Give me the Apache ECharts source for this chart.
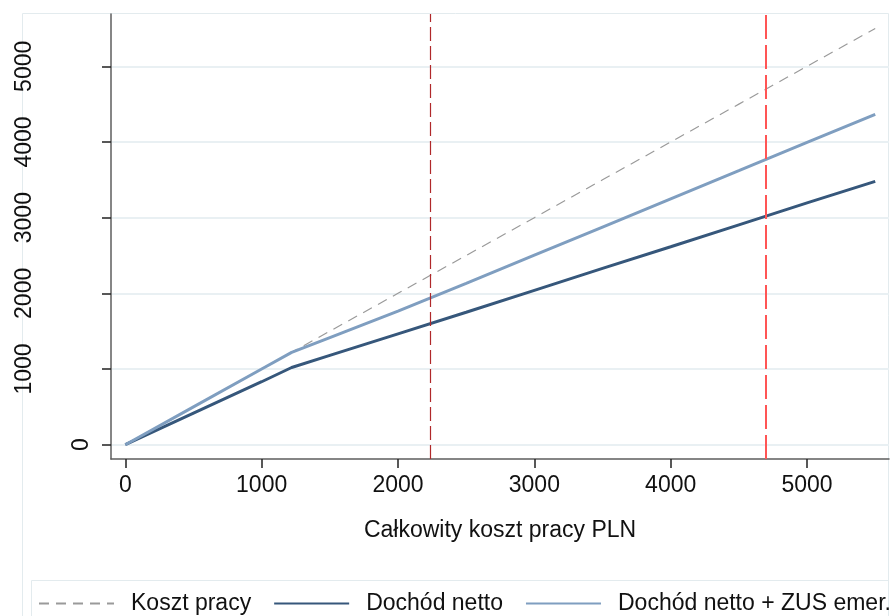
<!DOCTYPE html>
<html>
<head>
<meta charset="utf-8">
<script src="https://cdn.jsdelivr.net/npm/echarts@6/dist/echarts.min.js"></script>
<style>
html,body{margin:0;padding:0;background:#fff;}
#chart{width:891px;height:616px;}
</style>
</head>
<body>
<div id="chart"></div>
<script>
// ---- data ----
const xValues   = [0, 500, 1000, 1220, 1500, 2000, 2500, 3000, 3500, 4000, 4500, 5000, 5500];
const kosztPracy = [0, 500, 1000, 1220, 1500, 2000, 2500, 3000, 3500, 4000, 4500, 5000, 5500];
const dochodNetto = [0, 416, 832, 1020, 1180, 1465, 1750, 2040, 2330, 2615, 2905, 3195, 3480];
const dochodNettoZus = [0, 500, 1000, 1220, 1416, 1766, 2131, 2504, 2876, 3249, 3621, 3994, 4366];
const xTicks = [0, 1000, 2000, 3000, 4000, 5000];
const yTicks = [0, 1000, 2000, 3000, 4000, 5000];
const vLineMin = 2235;
const vLineRed = 4700;
const seriesNames = ['Koszt pracy', 'Dochód netto', 'Dochód netto + ZUS emer.'];
const xTitle = 'Całkowity koszt pracy PLN';

const pairs = (ys) => xValues.map((x, i) => [x, ys[i]]);
const FONT = "'Liberation Sans', Arial, sans-serif";

const chart = echarts.init(document.getElementById('chart'), null, {renderer: 'canvas'});
chart.setOption({
  animation: false,
  backgroundColor: '#ffffff',
  textStyle: {fontFamily: FONT, color: '#111'},
  grid: {left: 111, right: 2, top: 14, bottom: 157, containLabel: false},
  graphic: [
    {type: 'rect', z: -10, silent: true,
     shape: {x: 22.5, y: 13.5, width: 866, height: 620},
     style: {fill: 'none', stroke: '#e3ebee', lineWidth: 1}},
    {type: 'rect', z: -10, silent: true,
     shape: {x: 31.5, y: 580.5, width: 857, height: 60},
     style: {fill: 'none', stroke: '#e3ebee', lineWidth: 1}}
  ],
  legend: {
    left: 38, top: 592, padding: 0,
    itemWidth: 75, itemHeight: 14, itemGap: 22,
    data: seriesNames,
    itemStyle: {opacity: 0},
    textStyle: {fontFamily: FONT, fontSize: 23, color: '#111', padding: [0, 0, 0, 12]}
  },
  xAxis: {
    type: 'value', min: -105, max: 5601,
    name: xTitle, nameLocation: 'middle', nameGap: 60,
    nameTextStyle: {fontFamily: FONT, fontSize: 23, color: '#111'},
    axisLine: {onZero: false, lineStyle: {color: '#5e5e5e', width: 1.5}},
    axisTick: {length: 9, customValues: xTicks, lineStyle: {color: '#222', width: 1.5}},
    axisLabel: {customValues: xTicks, margin: 15, fontFamily: FONT, fontSize: 23, color: '#111',
      formatter: (v) => String(v)},
    splitLine: {show: false}
  },
  yAxis: {
    type: 'value', min: -189, max: 5691,
    axisLine: {onZero: false, lineStyle: {color: '#5e5e5e', width: 1.5}},
    axisTick: {length: 9, customValues: yTicks, lineStyle: {color: '#222', width: 1.5}},
    axisLabel: {
      customValues: yTicks, rotate: 90, margin: 18,
      fontFamily: FONT, fontSize: 23, color: '#111',
      formatter: (v) => v === 0 ? '{n|0}' : '{n|' + v + '}\n{g| }',
      rich: {
        n: {fontFamily: FONT, fontSize: 23, lineHeight: 23, color: '#111'},
        g: {fontSize: 10, lineHeight: 57}
      }
    },
    splitLine: {show: true, lineStyle: {color: '#e9f0f3', width: 2}}
  },
  series: [
    {
      name: seriesNames[0], type: 'line', data: pairs(kosztPracy),
      symbol: 'none', z: 2,
      lineStyle: {color: '#9a9a9a', width: 1.2, type: [10, 7]},
      itemStyle: {color: '#9a9a9a'}
    },
    {
      name: seriesNames[1], type: 'line', data: pairs(dochodNetto),
      symbol: 'none', z: 3,
      lineStyle: {color: '#36577b', width: 3},
      itemStyle: {color: '#36577b'},
      markLine: {
        silent: true, symbol: 'none', label: {show: false},
        data: [
          {xAxis: vLineMin, lineStyle: {color: '#b0282a', width: 1.2, type: [14, 5]}},
          {xAxis: vLineRed, lineStyle: {color: '#ff5555', width: 2, type: [24, 6]}}
        ]
      }
    },
    {
      name: seriesNames[2], type: 'line', data: pairs(dochodNettoZus),
      symbol: 'none', z: 4,
      lineStyle: {color: '#7f9ec0', width: 3},
      itemStyle: {color: '#7f9ec0'}
    }
  ]
});
</script>
</body>
</html>
